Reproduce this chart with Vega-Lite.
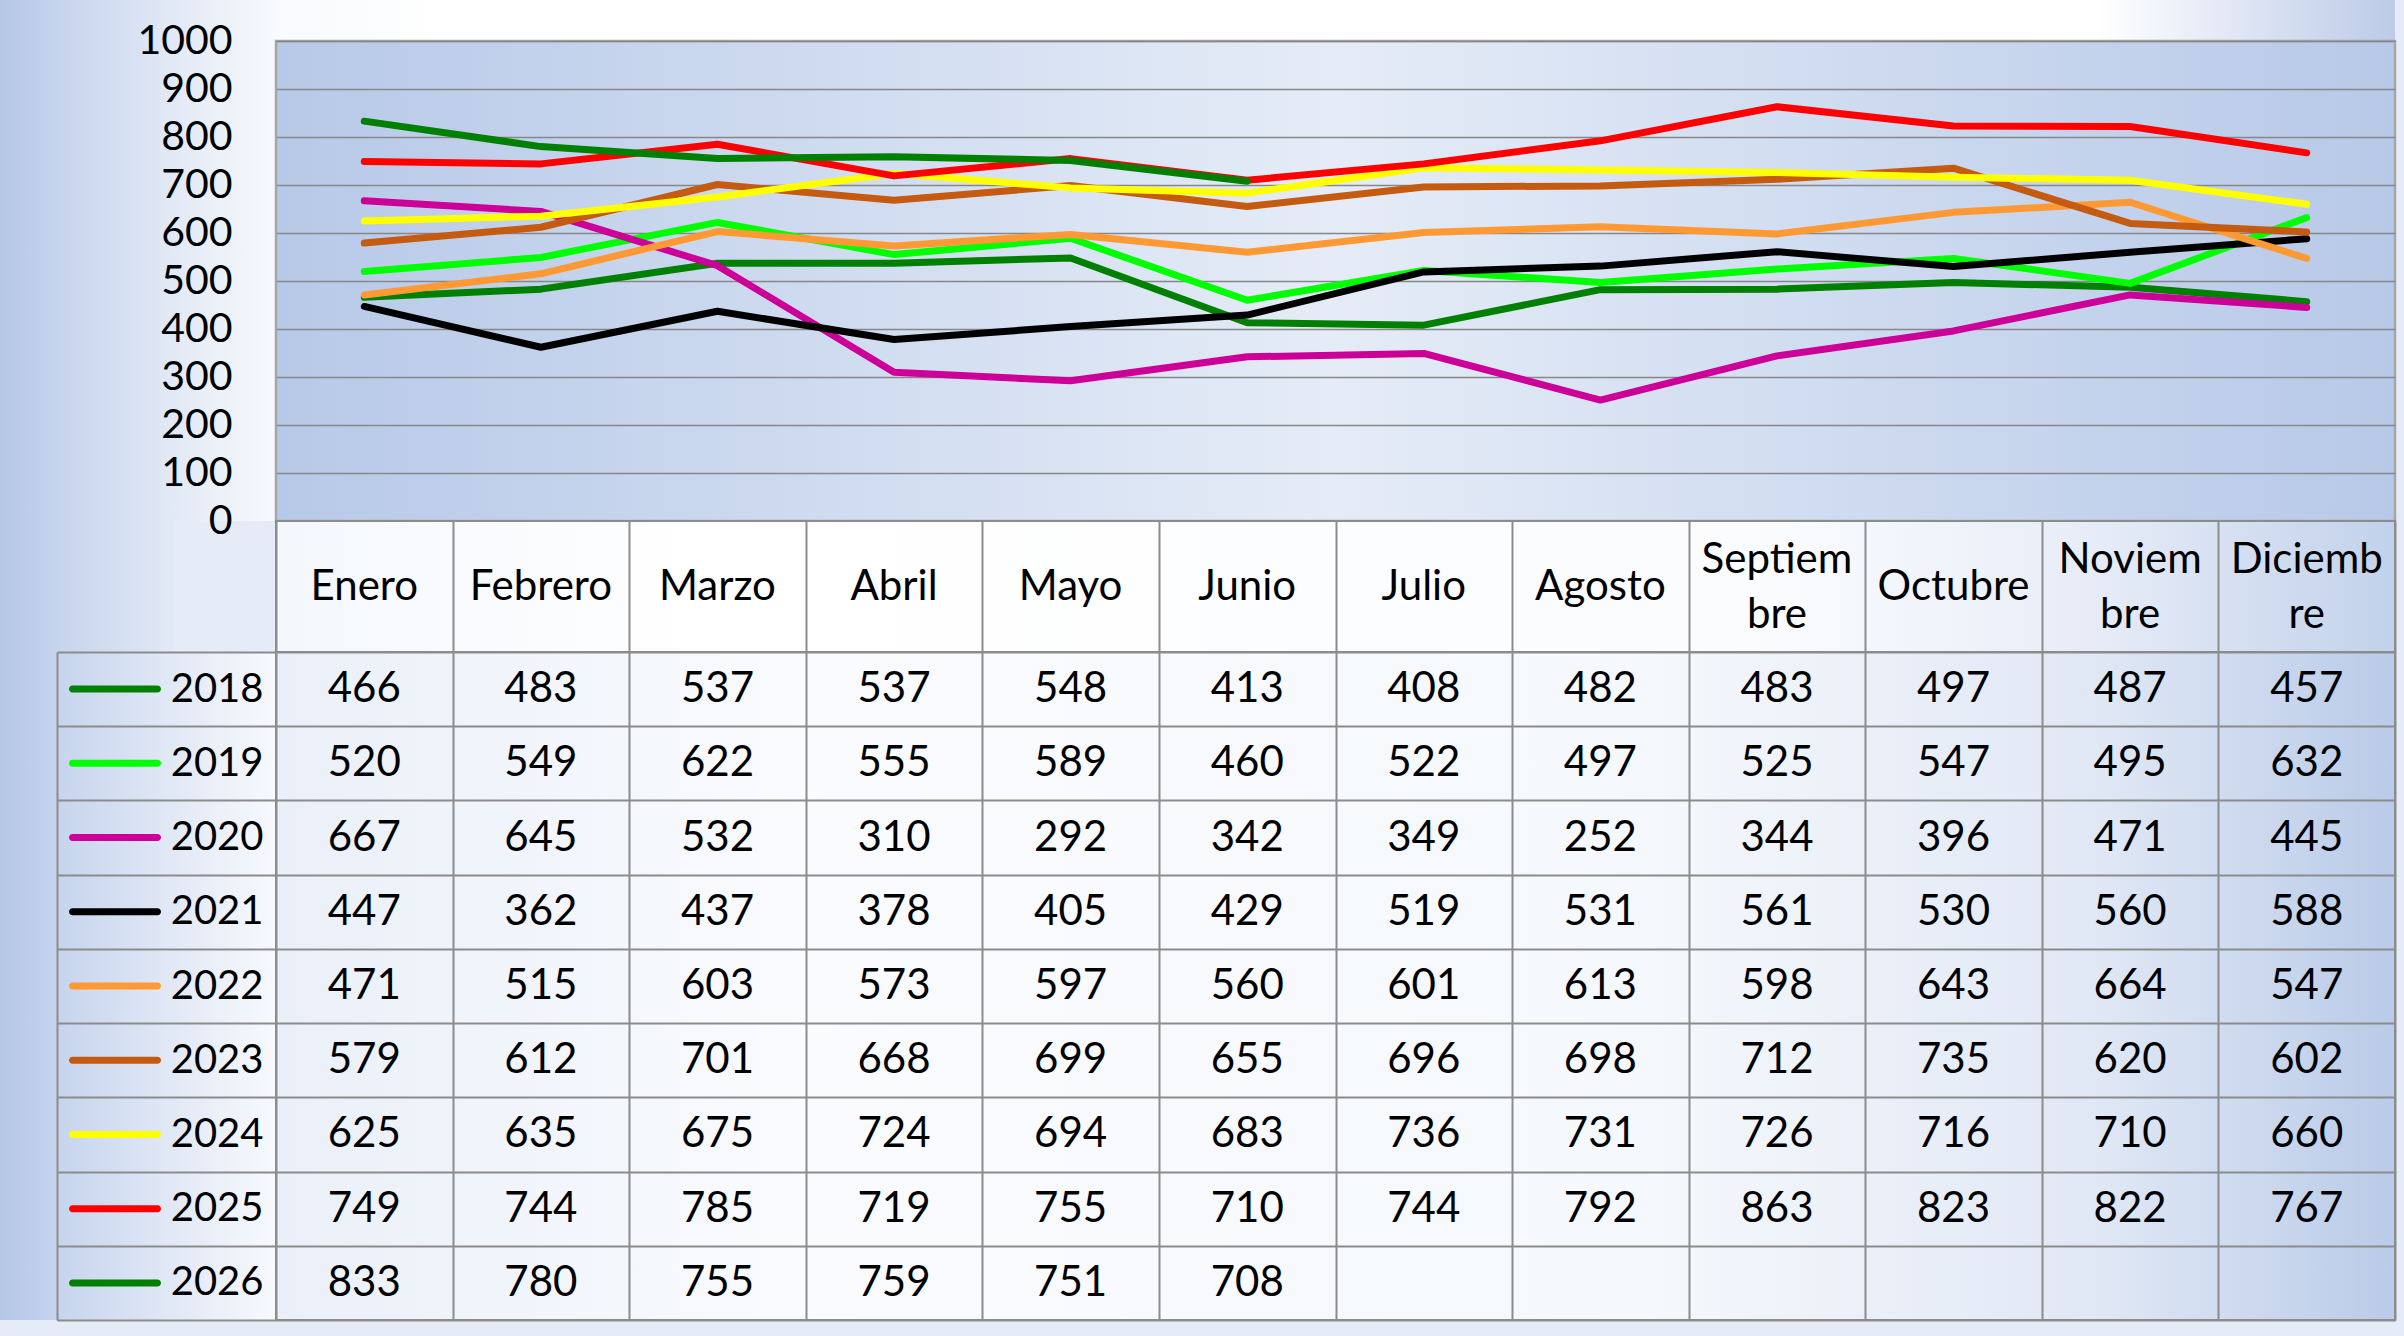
{
  "$schema": "https://vega.github.io/schema/vega-lite/v6.json",
  "background": "#e6ecf7",
  "padding": {"left": 0, "top": 0, "right": 9, "bottom": 16},
  "autosize": {"type": "pad"},
  "config": {
    "font": "Lato",
    "view": {"stroke": null},
    "axis": {"labelFont": "Lato", "labelColor": "#000000", "title": null}
  },
  "columns": 4,
  "spacing": 0,
  "bounds": "flush",
  "align": "each",
  "resolve": {"scale": {"x": "independent", "y": "independent"}},
  "datasets": {
    "months": [
      {"month": "Enero", "label": "Enero"},
      {"month": "Febrero", "label": "Febrero"},
      {"month": "Marzo", "label": "Marzo"},
      {"month": "Abril", "label": "Abril"},
      {"month": "Mayo", "label": "Mayo"},
      {"month": "Junio", "label": "Junio"},
      {"month": "Julio", "label": "Julio"},
      {"month": "Agosto", "label": "Agosto"},
      {"month": "Septiembre", "label": "Septiem\nbre"},
      {"month": "Octubre", "label": "Octubre"},
      {"month": "Noviembre", "label": "Noviem\nbre"},
      {"month": "Diciembre", "label": "Diciemb\nre"}
    ],
    "years": [
      {"year": "2018"}, {"year": "2019"}, {"year": "2020"}, {"year": "2021"}, {"year": "2022"},
      {"year": "2023"}, {"year": "2024"}, {"year": "2025"}, {"year": "2026"}
    ],
    "sales": [
      {"year": "2018", "month": "Enero", "value": 466},
      {"year": "2018", "month": "Febrero", "value": 483},
      {"year": "2018", "month": "Marzo", "value": 537},
      {"year": "2018", "month": "Abril", "value": 537},
      {"year": "2018", "month": "Mayo", "value": 548},
      {"year": "2018", "month": "Junio", "value": 413},
      {"year": "2018", "month": "Julio", "value": 408},
      {"year": "2018", "month": "Agosto", "value": 482},
      {"year": "2018", "month": "Septiembre", "value": 483},
      {"year": "2018", "month": "Octubre", "value": 497},
      {"year": "2018", "month": "Noviembre", "value": 487},
      {"year": "2018", "month": "Diciembre", "value": 457},
      {"year": "2019", "month": "Enero", "value": 520},
      {"year": "2019", "month": "Febrero", "value": 549},
      {"year": "2019", "month": "Marzo", "value": 622},
      {"year": "2019", "month": "Abril", "value": 555},
      {"year": "2019", "month": "Mayo", "value": 589},
      {"year": "2019", "month": "Junio", "value": 460},
      {"year": "2019", "month": "Julio", "value": 522},
      {"year": "2019", "month": "Agosto", "value": 497},
      {"year": "2019", "month": "Septiembre", "value": 525},
      {"year": "2019", "month": "Octubre", "value": 547},
      {"year": "2019", "month": "Noviembre", "value": 495},
      {"year": "2019", "month": "Diciembre", "value": 632},
      {"year": "2020", "month": "Enero", "value": 667},
      {"year": "2020", "month": "Febrero", "value": 645},
      {"year": "2020", "month": "Marzo", "value": 532},
      {"year": "2020", "month": "Abril", "value": 310},
      {"year": "2020", "month": "Mayo", "value": 292},
      {"year": "2020", "month": "Junio", "value": 342},
      {"year": "2020", "month": "Julio", "value": 349},
      {"year": "2020", "month": "Agosto", "value": 252},
      {"year": "2020", "month": "Septiembre", "value": 344},
      {"year": "2020", "month": "Octubre", "value": 396},
      {"year": "2020", "month": "Noviembre", "value": 471},
      {"year": "2020", "month": "Diciembre", "value": 445},
      {"year": "2021", "month": "Enero", "value": 447},
      {"year": "2021", "month": "Febrero", "value": 362},
      {"year": "2021", "month": "Marzo", "value": 437},
      {"year": "2021", "month": "Abril", "value": 378},
      {"year": "2021", "month": "Mayo", "value": 405},
      {"year": "2021", "month": "Junio", "value": 429},
      {"year": "2021", "month": "Julio", "value": 519},
      {"year": "2021", "month": "Agosto", "value": 531},
      {"year": "2021", "month": "Septiembre", "value": 561},
      {"year": "2021", "month": "Octubre", "value": 530},
      {"year": "2021", "month": "Noviembre", "value": 560},
      {"year": "2021", "month": "Diciembre", "value": 588},
      {"year": "2022", "month": "Enero", "value": 471},
      {"year": "2022", "month": "Febrero", "value": 515},
      {"year": "2022", "month": "Marzo", "value": 603},
      {"year": "2022", "month": "Abril", "value": 573},
      {"year": "2022", "month": "Mayo", "value": 597},
      {"year": "2022", "month": "Junio", "value": 560},
      {"year": "2022", "month": "Julio", "value": 601},
      {"year": "2022", "month": "Agosto", "value": 613},
      {"year": "2022", "month": "Septiembre", "value": 598},
      {"year": "2022", "month": "Octubre", "value": 643},
      {"year": "2022", "month": "Noviembre", "value": 664},
      {"year": "2022", "month": "Diciembre", "value": 547},
      {"year": "2023", "month": "Enero", "value": 579},
      {"year": "2023", "month": "Febrero", "value": 612},
      {"year": "2023", "month": "Marzo", "value": 701},
      {"year": "2023", "month": "Abril", "value": 668},
      {"year": "2023", "month": "Mayo", "value": 699},
      {"year": "2023", "month": "Junio", "value": 655},
      {"year": "2023", "month": "Julio", "value": 696},
      {"year": "2023", "month": "Agosto", "value": 698},
      {"year": "2023", "month": "Septiembre", "value": 712},
      {"year": "2023", "month": "Octubre", "value": 735},
      {"year": "2023", "month": "Noviembre", "value": 620},
      {"year": "2023", "month": "Diciembre", "value": 602},
      {"year": "2024", "month": "Enero", "value": 625},
      {"year": "2024", "month": "Febrero", "value": 635},
      {"year": "2024", "month": "Marzo", "value": 675},
      {"year": "2024", "month": "Abril", "value": 724},
      {"year": "2024", "month": "Mayo", "value": 694},
      {"year": "2024", "month": "Junio", "value": 683},
      {"year": "2024", "month": "Julio", "value": 736},
      {"year": "2024", "month": "Agosto", "value": 731},
      {"year": "2024", "month": "Septiembre", "value": 726},
      {"year": "2024", "month": "Octubre", "value": 716},
      {"year": "2024", "month": "Noviembre", "value": 710},
      {"year": "2024", "month": "Diciembre", "value": 660},
      {"year": "2025", "month": "Enero", "value": 749},
      {"year": "2025", "month": "Febrero", "value": 744},
      {"year": "2025", "month": "Marzo", "value": 785},
      {"year": "2025", "month": "Abril", "value": 719},
      {"year": "2025", "month": "Mayo", "value": 755},
      {"year": "2025", "month": "Junio", "value": 710},
      {"year": "2025", "month": "Julio", "value": 744},
      {"year": "2025", "month": "Agosto", "value": 792},
      {"year": "2025", "month": "Septiembre", "value": 863},
      {"year": "2025", "month": "Octubre", "value": 823},
      {"year": "2025", "month": "Noviembre", "value": 822},
      {"year": "2025", "month": "Diciembre", "value": 767},
      {"year": "2026", "month": "Enero", "value": 833},
      {"year": "2026", "month": "Febrero", "value": 780},
      {"year": "2026", "month": "Marzo", "value": 755},
      {"year": "2026", "month": "Abril", "value": 759},
      {"year": "2026", "month": "Mayo", "value": 751},
      {"year": "2026", "month": "Junio", "value": 708}
    ]
  },
  "concat": [
    {"width": 57, "height": 41, "data": {"values": []}, "mark": "point",
     "view": {"stroke": null, "fill": {"gradient": "linear", "x1": 0, "y1": 0, "x2": 1, "y2": 0, "stops": [{"offset": 0, "color": "#b4c7e7"}, {"offset": 1, "color": "#c6d4ed"}]}}},
    {"width": 116, "height": 41, "data": {"values": []}, "mark": "point",
     "view": {"stroke": null, "fill": {"gradient": "linear", "x1": 0, "y1": 0, "x2": 1, "y2": 0, "stops": [{"offset": 0, "color": "#c6d4ed"}, {"offset": 1, "color": "#e2e9f6"}]}}},
    {"width": 103, "height": 41, "data": {"values": []}, "mark": "point",
     "view": {"stroke": null, "fill": {"gradient": "linear", "x1": 0, "y1": 0, "x2": 1, "y2": 0, "stops": [{"offset": 0, "color": "#e2e9f6"}, {"offset": 1, "color": "#f7f9fd"}]}}},
    {"width": 2119, "height": 41, "data": {"values": []}, "mark": "point",
     "view": {"stroke": null, "fill": {"gradient": "linear", "x1": 0, "y1": 0, "x2": 1, "y2": 0, "stops": [{"offset": 0, "color": "#f8fafd"}, {"offset": 0.08, "color": "#ffffff"}, {"offset": 0.86, "color": "#ffffff"}, {"offset": 1, "color": "#bccbe8"}]}}},

    {"width": 57, "height": 480, "data": {"values": []}, "mark": "point",
     "view": {"stroke": null, "fill": {"gradient": "linear", "x1": 0, "y1": 0, "x2": 1, "y2": 0, "stops": [{"offset": 0, "color": "#b4c7e7"}, {"offset": 1, "color": "#c6d4ed"}]}}},
    {"width": 116, "height": 480, "data": {"values": []}, "mark": "point",
     "view": {"stroke": null, "fill": {"gradient": "linear", "x1": 0, "y1": 0, "x2": 1, "y2": 0, "stops": [{"offset": 0, "color": "#c6d4ed"}, {"offset": 1, "color": "#e2e9f6"}]}}},
    {"width": 103, "height": 480, "data": {"values": []}, "mark": "point",
     "view": {"stroke": null, "fill": {"gradient": "linear", "x1": 0, "y1": 0, "x2": 1, "y2": 0, "stops": [{"offset": 0, "color": "#e2e9f6"}, {"offset": 1, "color": "#f7f9fd"}]}}},
    {
      "width": 2119, "height": 480,
      "data": {"name": "sales"},
      "view": {"stroke": "#a6a6a6", "strokeWidth": 2.5,
               "fill": {"gradient": "linear", "x1": 0, "y1": 0, "x2": 1, "y2": 0, "stops": [{"offset": 0, "color": "#b7c9e8"}, {"offset": 0.5, "color": "#e5ecf7"}, {"offset": 1, "color": "#b7c9e8"}]}},
      "mark": {"type": "line", "strokeWidth": 7, "strokeCap": "round", "strokeJoin": "round"},
      "encoding": {
        "x": {"field": "month", "type": "nominal", "axis": null,
              "scale": {"type": "point", "padding": 0.5, "domain": ["Enero", "Febrero", "Marzo", "Abril", "Mayo", "Junio", "Julio", "Agosto", "Septiembre", "Octubre", "Noviembre", "Diciembre"]}},
        "y": {"field": "value", "type": "quantitative",
              "scale": {"domain": [0, 1000], "nice": false},
              "axis": {"values": [0, 100, 200, 300, 400, 500, 600, 700, 800, 900, 1000], "format": "d", "grid": true, "gridColor": "#878787", "gridWidth": 1.5,
                       "ticks": false, "domain": false, "labelFontSize": 41, "labelPadding": 44}},
        "color": {"field": "year", "type": "nominal", "legend": null,
                  "scale": {"domain": ["2018", "2019", "2020", "2021", "2022", "2023", "2024", "2025", "2026"],
                            "range": ["#008000", "#00ff00", "#cc0099", "#000000", "#ff9933", "#c55a11", "#ffff00", "#ff0000", "#008000"]}}
      }
    },

    {"width": 57, "height": 131, "data": {"values": []}, "mark": "point",
     "view": {"stroke": null, "fill": {"gradient": "linear", "x1": 0, "y1": 0, "x2": 1, "y2": 0, "stops": [{"offset": 0, "color": "#b4c7e7"}, {"offset": 1, "color": "#c6d4ed"}]}}},
    {"width": 116, "height": 131, "data": {"values": []}, "mark": "point",
     "view": {"stroke": null, "fill": {"gradient": "linear", "x1": 0, "y1": 0, "x2": 1, "y2": 0, "stops": [{"offset": 0, "color": "#c6d4ed"}, {"offset": 1, "color": "#e2e9f6"}]}}},
    {"width": 103, "height": 131, "data": {"values": []}, "mark": "point",
     "view": {"stroke": null, "fill": null}},
    {
      "width": 2119, "height": 131,
      "data": {"name": "months"},
      "view": {"stroke": "#8c8c8c", "strokeWidth": 2,
               "fill": {"gradient": "linear", "x1": 0, "y1": 0, "x2": 1, "y2": 0, "stops": [{"offset": 0, "color": "#f4f7fc"}, {"offset": 0.2, "color": "#ffffff"}, {"offset": 0.7, "color": "#fbfcfe"}, {"offset": 0.86, "color": "#e6ecf7"}, {"offset": 1, "color": "#c2d1eb"}]}},
      "layer": [
        {
          "transform": [{"filter": "indexof(datum.label, '\\n') < 0"}],
          "mark": {"type": "text", "fontSize": 42, "baseline": "middle", "color": "#000000"},
          "encoding": {
            "x": {"field": "month", "type": "nominal",
                  "scale": {"domain": ["Enero", "Febrero", "Marzo", "Abril", "Mayo", "Junio", "Julio", "Agosto", "Septiembre", "Octubre", "Noviembre", "Diciembre"]},
                  "axis": {"orient": "bottom", "labels": false, "ticks": false, "domain": false, "grid": true, "tickBand": "extent", "gridColor": "#8c8c8c", "gridWidth": 2}},
            "text": {"field": "label", "type": "nominal"}
          }
        },
        {
          "transform": [{"filter": "indexof(datum.label, '\\n') >= 0"}],
          "mark": {"type": "text", "fontSize": 42, "lineBreak": "\n", "lineHeight": 55, "baseline": "middle", "dy": -27, "color": "#000000"},
          "encoding": {
            "x": {"field": "month", "type": "nominal"},
            "text": {"field": "label", "type": "nominal"}
          }
        }
      ]
    },

    {"width": 57, "height": 668, "data": {"values": []}, "mark": "point",
     "view": {"stroke": null, "fill": {"gradient": "linear", "x1": 0, "y1": 0, "x2": 1, "y2": 0, "stops": [{"offset": 0, "color": "#b4c7e7"}, {"offset": 1, "color": "#c6d4ed"}]}}},
    {
      "width": 116, "height": 668,
      "data": {"name": "years"},
      "view": {"stroke": null, "fill": {"gradient": "linear", "x1": 0, "y1": 0, "x2": 1, "y2": 0, "stops": [{"offset": 0, "color": "#c6d4ed"}, {"offset": 1, "color": "#e2e9f6"}]}},
      "mark": {"type": "tick", "orient": "horizontal", "size": 92, "thickness": 7, "cornerRadius": 3.5, "opacity": 1},
      "encoding": {
        "y": {"field": "year", "type": "nominal",
              "scale": {"domain": ["2018", "2019", "2020", "2021", "2022", "2023", "2024", "2025", "2026"]},
              "axis": {"labels": false, "ticks": false, "grid": false, "domain": true, "domainColor": "#8c8c8c", "domainWidth": 2}},
        "color": {"field": "year", "type": "nominal", "legend": null,
                  "scale": {"domain": ["2018", "2019", "2020", "2021", "2022", "2023", "2024", "2025", "2026"],
                            "range": ["#008000", "#00ff00", "#cc0099", "#000000", "#ff9933", "#c55a11", "#ffff00", "#ff0000", "#008000"]}}
      }
    },
    {"width": 103, "height": 668, "data": {"values": []}, "mark": "point",
     "view": {"stroke": null, "fill": {"gradient": "linear", "x1": 0, "y1": 0, "x2": 1, "y2": 0, "stops": [{"offset": 0, "color": "#e2e9f6"}, {"offset": 1, "color": "#f7f9fd"}]}}},
    {
      "width": 2119, "height": 668,
      "data": {"name": "sales"},
      "view": {"stroke": "#8c8c8c", "strokeWidth": 2,
               "fill": {"gradient": "linear", "x1": 0, "y1": 0, "x2": 1, "y2": 0, "stops": [{"offset": 0, "color": "#eaf0f9"}, {"offset": 0.25, "color": "#fafbfe"}, {"offset": 0.65, "color": "#f5f8fc"}, {"offset": 0.86, "color": "#e0e8f5"}, {"offset": 1, "color": "#bacbe8"}]}},
      "mark": {"type": "text", "fontSize": 42, "baseline": "middle", "color": "#000000"},
      "encoding": {
        "x": {"field": "month", "type": "nominal",
              "scale": {"domain": ["Enero", "Febrero", "Marzo", "Abril", "Mayo", "Junio", "Julio", "Agosto", "Septiembre", "Octubre", "Noviembre", "Diciembre"]},
              "axis": {"orient": "top", "labels": false, "ticks": false, "domain": false, "grid": true, "tickBand": "extent", "gridColor": "#8c8c8c", "gridWidth": 2}},
        "y": {"field": "year", "type": "nominal",
              "scale": {"domain": ["2018", "2019", "2020", "2021", "2022", "2023", "2024", "2025", "2026"]},
              "axis": {"grid": true, "tickBand": "extent", "gridColor": "#8c8c8c", "gridWidth": 2,
                       "ticks": true, "tickSize": 219, "tickColor": "#8c8c8c", "tickWidth": 2,
                       "domain": false, "labelFontSize": 40, "labelPadding": -206}},
        "text": {"field": "value", "type": "quantitative"}
      }
    }
  ]
}
